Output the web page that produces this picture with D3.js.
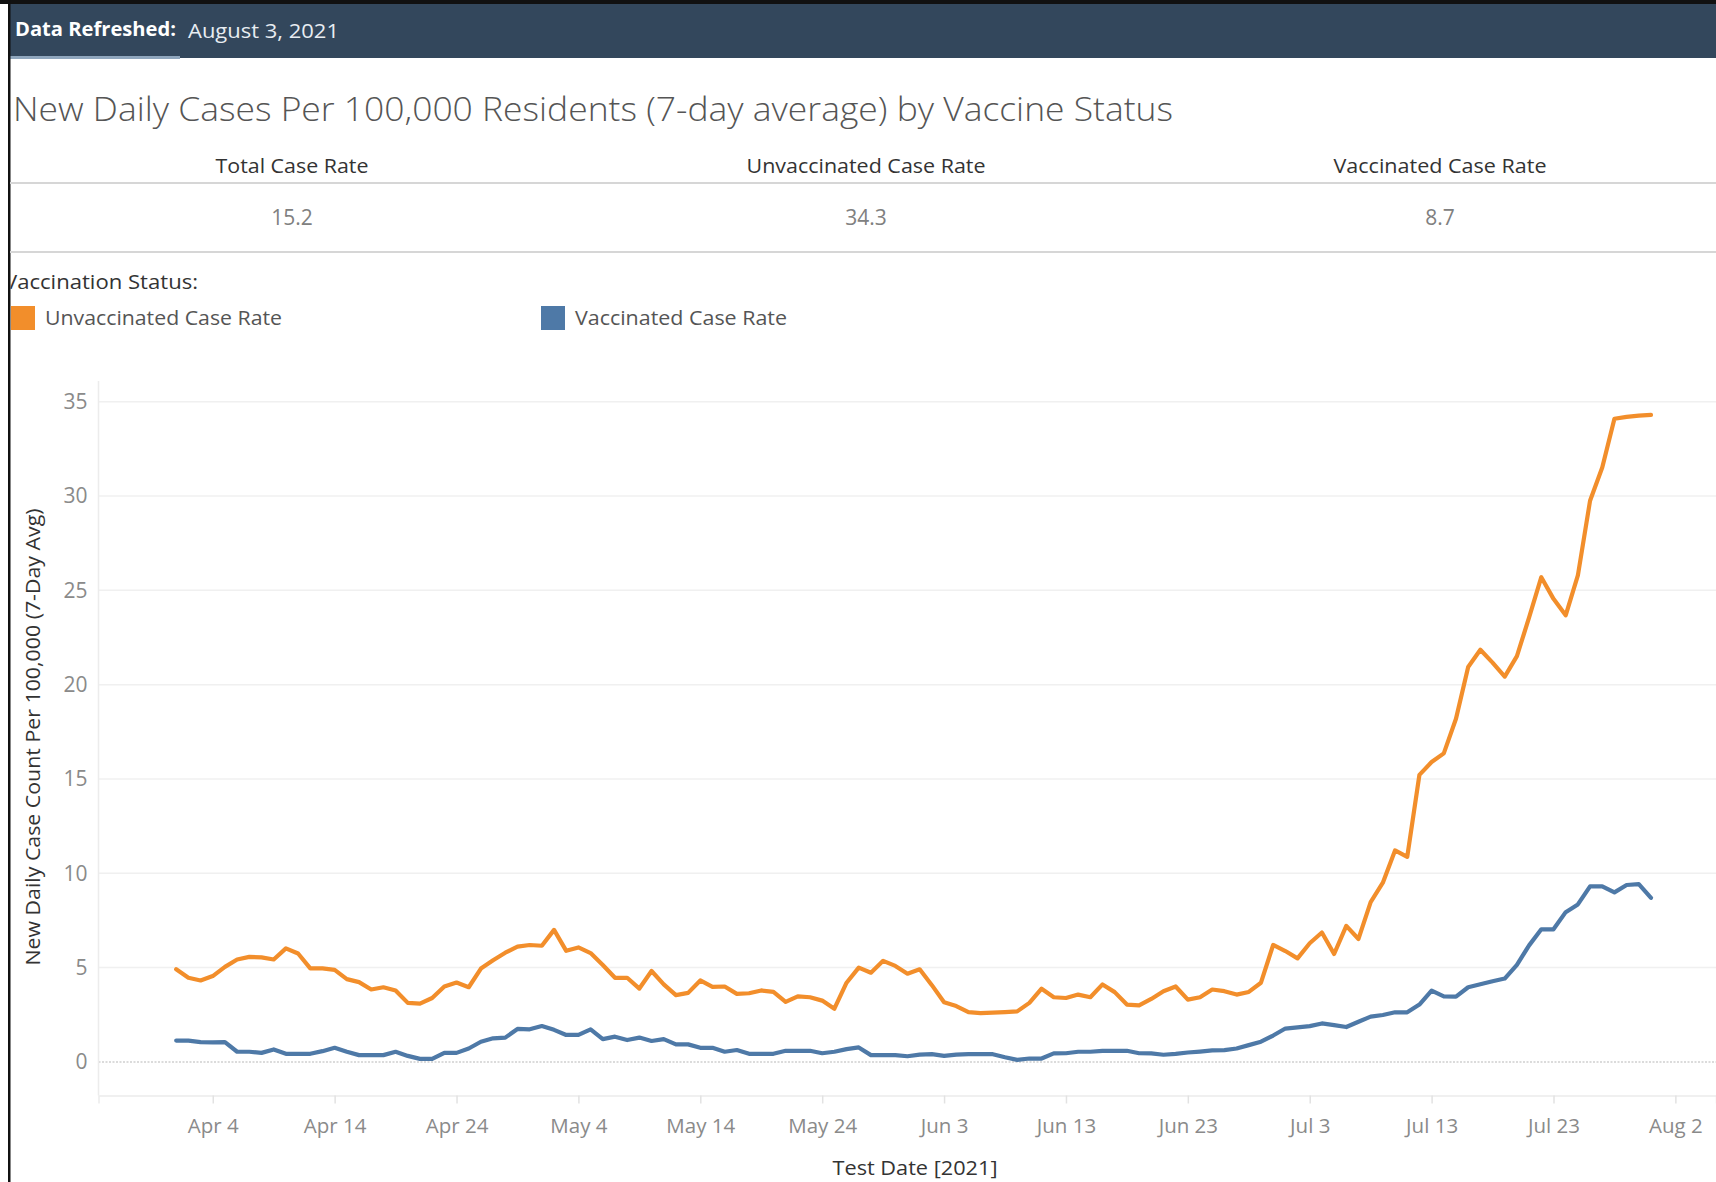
<!DOCTYPE html>
<html>
<head>
<meta charset="utf-8">
<script src="https://cdn.jsdelivr.net/npm/d3@7"></script>
<style>
  html, body { margin: 0; padding: 0; background: #fff; overflow: hidden; }
  svg { display: block; font-family: "Open Sans", "Noto Sans", sans-serif; }
</style>
</head>
<body>
<script>
// Data (daily values, Apr 1 .. Jul 31 2021)
const firstDate = "2021-04-01";

const unvaccinated = [
  4.91, 4.46, 4.32, 4.55, 5.04, 5.43, 5.57, 5.54, 5.43, 6.02, 5.75, 4.96, 4.96, 4.88, 4.39,
  4.23, 3.84, 3.96, 3.79, 3.13, 3.09, 3.39, 4.00, 4.21, 3.96, 4.95, 5.39, 5.79, 6.11, 6.20,
  6.16, 7.00, 5.89, 6.07, 5.77, 5.14, 4.46, 4.46, 3.89, 4.82, 4.11, 3.54, 3.66, 4.32, 3.98,
  4.00, 3.61, 3.64, 3.79, 3.71, 3.18, 3.48, 3.43, 3.25, 2.82, 4.20, 5.00, 4.73, 5.36, 5.09, 4.68,
  4.91, 4.07, 3.16, 2.96, 2.64, 2.59, 2.61, 2.64, 2.68, 3.13, 3.88, 3.43, 3.39, 3.57, 3.43,
  4.11, 3.70, 3.04, 3.00, 3.34, 3.75, 4.00, 3.30, 3.43, 3.84, 3.75, 3.57, 3.71, 4.20, 6.20,
  5.88, 5.49, 6.29, 6.86, 5.72, 7.21, 6.52, 8.47, 9.50, 11.21, 10.87, 15.22, 15.90, 16.36, 18.19,
  20.94, 21.85, 21.17, 20.43, 21.51, 23.57, 25.70, 24.55, 23.68, 25.79, 29.75, 31.51, 34.10, 34.20, 34.26, 34.30
];

const vaccinated = [
  1.13, 1.13, 1.05, 1.04, 1.05, 0.54, 0.54, 0.48, 0.66, 0.43, 0.43, 0.43, 0.57, 0.75, 0.54,
  0.36, 0.36, 0.36, 0.54, 0.32, 0.16, 0.16, 0.48, 0.48, 0.71, 1.07, 1.25, 1.29, 1.75, 1.73,
  1.90, 1.70, 1.43, 1.43, 1.73, 1.21, 1.34, 1.16, 1.29, 1.11, 1.21, 0.93, 0.93, 0.75, 0.75,
  0.54, 0.63, 0.43, 0.43, 0.43, 0.59, 0.59, 0.59, 0.46, 0.54, 0.68, 0.77, 0.36, 0.36, 0.36, 0.30,
  0.39, 0.41, 0.32, 0.39, 0.41, 0.41, 0.41, 0.25, 0.11, 0.18, 0.18, 0.45, 0.46, 0.54, 0.54,
  0.59, 0.59, 0.59, 0.46, 0.45, 0.38, 0.43, 0.50, 0.55, 0.61, 0.63, 0.71, 0.89, 1.07, 1.40,
  1.77, 1.83, 1.90, 2.04, 1.95, 1.85, 2.13, 2.40, 2.49, 2.63, 2.63, 3.04, 3.78, 3.48, 3.46,
  3.96, 4.12, 4.28, 4.42, 5.15, 6.18, 7.03, 7.03, 7.94, 8.35, 9.31, 9.31, 8.99, 9.38, 9.43, 8.70
];

const seriesNames = ["Unvaccinated Case Rate", "Vaccinated Case Rate"];
const kpiLabels = ["Total Case Rate", "Unvaccinated Case Rate", "Vaccinated Case Rate"];
const kpiValues = [15.2, 34.3, 8.7];
const xTickDates = ["2021-04-04", "2021-04-14", "2021-04-24", "2021-05-04", "2021-05-14", "2021-05-24",
  "2021-06-03", "2021-06-13", "2021-06-23", "2021-07-03", "2021-07-13", "2021-07-23", "2021-08-02"];
const yTicks = [0, 5, 10, 15, 20, 25, 30, 35];

document.addEventListener("DOMContentLoaded", function() {

    const W = 1716, H = 1182;
    const parse = d3.timeParse("%Y-%m-%d");
    const start = parse(firstDate);

    const svg = d3.select("body").append("svg")
        .attr("width", W)
        .attr("height", H)
        .attr("viewBox", [0, 0, W, H]);

    // Header bar
    svg.append("rect")
        .attr("x", 0).attr("y", 0).attr("width", W).attr("height", 4)
        .attr("fill", "#111");
    svg.append("rect")
        .attr("x", 10).attr("y", 4).attr("width", W).attr("height", 54)
        .attr("fill", "#33475c");
    svg.append("rect")
        .attr("x", 10).attr("y", 56).attr("width", 170).attr("height", 3)
        .attr("fill", "#8fa6bd");
    svg.append("text")
        .attr("x", 15).attr("y", 36)
        .attr("fill", "#fff").attr("font-size", 20).attr("font-weight", "bold")
        .attr("textLength", 161).attr("lengthAdjust", "spacingAndGlyphs")
        .text("Data Refreshed:");
    svg.append("text")
        .attr("x", 188).attr("y", 38)
        .attr("fill", "#e8edf2").attr("font-size", 20)
        .attr("textLength", 151).attr("lengthAdjust", "spacingAndGlyphs")
        .text("August 3, 2021");

    // Left frame line
    svg.append("rect")
        .attr("x", 8).attr("y", 0).attr("width", 2.5).attr("height", H)
        .attr("fill", "#111");

    // Title
    svg.append("text")
        .attr("x", 13).attr("y", 121)
        .attr("fill", "#555").attr("font-size", 33).attr("font-weight", 300)
        .attr("textLength", 1160).attr("lengthAdjust", "spacingAndGlyphs")
        .text("New Daily Cases Per 100,000 Residents (7-day average) by Vaccine Status");

    // KPI table
    const kpiX = d3.scalePoint().domain(kpiLabels).range([292, 1440]);
    const kpiW = d3.scaleOrdinal(kpiLabels, [153, 239, 213]);
    const kpi = svg.append("g");
    kpi.selectAll("text.label")
        .data(kpiLabels)
        .join("text")
        .attr("class", "label")
        .attr("x", d => kpiX(d)).attr("y", 173)
        .attr("text-anchor", "middle")
        .attr("fill", "#333").attr("font-size", 20)
        .attr("textLength", d => kpiW(d)).attr("lengthAdjust", "spacingAndGlyphs")
        .text(d => d);
    kpi.selectAll("text.value")
        .data(kpiValues)
        .join("text")
        .attr("class", "value")
        .attr("x", (d, i) => kpiX(kpiLabels[i])).attr("y", 225)
        .attr("text-anchor", "middle")
        .attr("fill", "#808080").attr("font-size", 21)
        .text(d => d3.format(".1f")(d));
    kpi.selectAll("line")
        .data([183, 252])
        .join("line")
        .attr("x1", 10).attr("x2", W)
        .attr("y1", d => d).attr("y2", d => d)
        .attr("stroke", "#d6d6d6").attr("stroke-width", 2);

    // Legend
    const color = d3.scaleOrdinal(seriesNames, ["#f28e2b", "#4e79a7"]);
    svg.append("clipPath").attr("id", "leftclip")
        .append("rect").attr("x", 10.5).attr("y", 0).attr("width", W).attr("height", H);
    svg.append("text")
        .attr("clip-path", "url(#leftclip)")
        .attr("x", 4).attr("y", 289)
        .attr("fill", "#333").attr("font-size", 20)
        .attr("textLength", 194).attr("lengthAdjust", "spacingAndGlyphs")
        .text("Vaccination Status:");
    const legendX = d3.scalePoint().domain(seriesNames).range([11, 541]);
    const legendW = d3.scaleOrdinal(seriesNames, [237, 212]);
    const legend = svg.append("g").selectAll("g")
        .data(seriesNames)
        .join("g")
        .attr("transform", d => `translate(${legendX(d)},306)`);
    legend.append("rect")
        .attr("width", 24).attr("height", 24)
        .attr("fill", d => color(d));
    legend.append("text")
        .attr("x", 34).attr("y", 19)
        .attr("fill", "#555").attr("font-size", 20)
        .attr("textLength", d => legendW(d)).attr("lengthAdjust", "spacingAndGlyphs")
        .text(d => d);

    // Scales
    const plotLeft = 98.5, plotTop = 381, plotBottom = 1095.5;
    const x = d3.scaleTime()
        .domain([new Date(2021, 2, 25, 15), new Date(2021, 7, 5, 8)])
        .range([plotLeft, W]);
    const y = d3.scaleLinear()
        .domain([-1.78, 36.1])
        .range([plotBottom, plotTop]);

    // Gridlines
    svg.append("g")
        .selectAll("line")
        .data(yTicks.filter(d => d > 0))
        .join("line")
        .attr("x1", plotLeft).attr("x2", W)
        .attr("y1", d => y(d)).attr("y2", d => y(d))
        .attr("stroke", "#f0f0f0").attr("stroke-width", 1.5);
    svg.append("line")
        .attr("x1", plotLeft).attr("x2", W)
        .attr("y1", y(0)).attr("y2", y(0))
        .attr("stroke", "#cfcfcf").attr("stroke-width", 1.5)
        .attr("stroke-dasharray", "2,1.5");

    // Plot frame (left)
    svg.append("line")
        .attr("x1", plotLeft).attr("x2", plotLeft)
        .attr("y1", plotTop).attr("y2", plotBottom)
        .attr("stroke", "#ececec").attr("stroke-width", 1.5);

    // Y axis
    const yAxis = svg.append("g")
        .attr("transform", `translate(${plotLeft},0)`)
        .call(d3.axisLeft(y).tickValues(yTicks).tickSize(0).tickPadding(11));
    yAxis.select(".domain").remove();
    yAxis.selectAll("text")
        .attr("fill", "#8a8a8a").attr("font-size", 21)
        .attr("font-family", "'Open Sans', 'Noto Sans', sans-serif");

    // X axis
    const xAxis = svg.append("g")
        .attr("transform", `translate(0,${plotBottom})`)
        .call(d3.axisBottom(x)
            .tickValues(xTickDates.map(parse))
            .tickFormat(d3.timeFormat("%b %-d"))
            .tickSize(8).tickPadding(15));
    xAxis.select(".domain").attr("stroke", "#ececec").attr("stroke-width", 1.5);
    xAxis.selectAll(".tick line").attr("stroke", "#e2e2e2").attr("stroke-width", 1.5);
    xAxis.selectAll("text")
        .attr("fill", "#8a8a8a").attr("font-size", 20.5)
        .attr("font-family", "'Open Sans', 'Noto Sans', sans-serif");

    // Axis titles
    svg.append("text")
        .attr("transform", "translate(40,737) rotate(-90)")
        .attr("text-anchor", "middle")
        .attr("fill", "#333").attr("font-size", 20)
        .attr("textLength", 457).attr("lengthAdjust", "spacingAndGlyphs")
        .text("New Daily Case Count Per 100,000 (7-Day Avg)");
    svg.append("text")
        .attr("x", 915).attr("y", 1175)
        .attr("text-anchor", "middle")
        .attr("fill", "#333").attr("font-size", 19.5)
        .attr("textLength", 165).attr("lengthAdjust", "spacingAndGlyphs")
        .text("Test Date [2021]");

    // Lines
    const series = [unvaccinated, vaccinated].map((vals, i) => ({
        name: seriesNames[i],
        values: vals.map((v, j) => ({ date: d3.timeDay.offset(start, j), value: v }))
    }));
    const line = d3.line()
        .x(d => x(d.date))
        .y(d => y(d.value));
    svg.append("g")
        .selectAll("path")
        .data(series.slice().reverse())
        .join("path")
        .attr("fill", "none")
        .attr("stroke", d => color(d.name))
        .attr("stroke-width", 4.2)
        .attr("stroke-linejoin", "round")
        .attr("stroke-linecap", "round")
        .attr("d", d => line(d.values));
});
</script>
</body>
</html>
